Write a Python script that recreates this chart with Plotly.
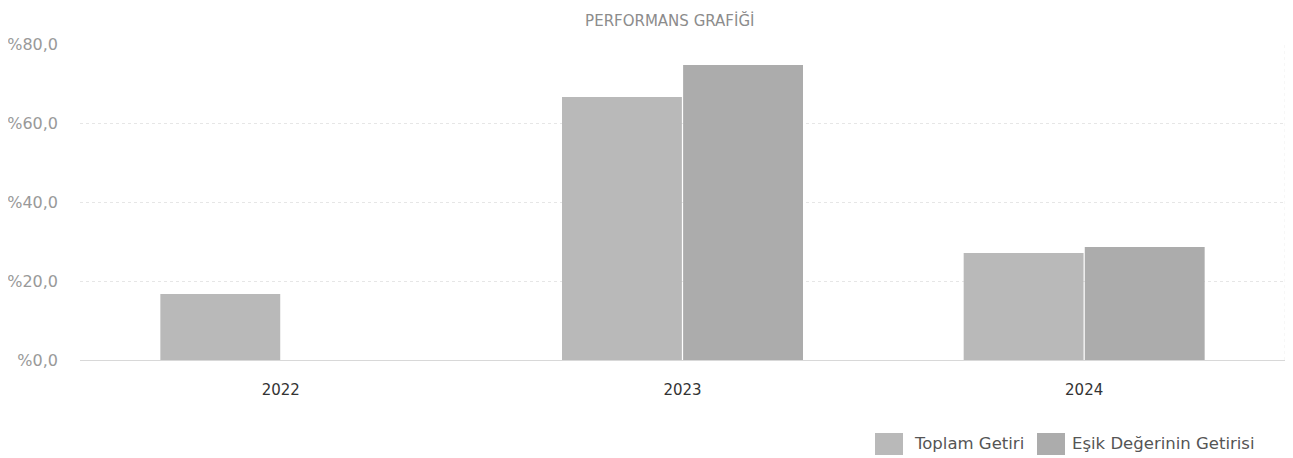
import plotly.graph_objects as go

categories = ["2022", "2023", "2024"]
toplam_getiri = [16.7, 66.6, 27.1]
esik_getiri = [None, 74.7, 28.6]
tick_vals = [0, 20, 40, 60, 80]
tick_text = ["%0,0", "%20,0", "%40,0", "%60,0", "%80,0"]
series_names = ["Toplam Getiri", "Eşik Değerinin Getirisi"]
series_colors = ["#b9b9b9", "#acacac"]

fig = go.Figure()
fig.add_trace(go.Bar(x=categories, y=toplam_getiri, name=series_names[0], showlegend=False,
                     marker=dict(color=series_colors[0], line=dict(width=0))))
fig.add_trace(go.Bar(x=categories, y=esik_getiri, name=series_names[1], showlegend=False,
                     marker=dict(color=series_colors[1], line=dict(width=0))))

W, H = 1285, 450
L, R, T, B = 72, 8, 36, 98
pw, ph = W - L - R, H - T - B


def px_x(fx):
    return (fx - L) / pw


def px_y(fy):
    return (H - B - fy) / ph


# legend drawn as boxes + text (bottom right)
legend_items = [(867, 904), (1029, 1062)]
for (bx, tx), name, col in zip(legend_items, series_names, series_colors):
    fig.add_shape(type="rect", xref="paper", yref="paper",
                  x0=px_x(bx), x1=px_x(bx + 28), y0=px_y(447), y1=px_y(425),
                  fillcolor=col, line=dict(width=0))
    fig.add_annotation(text=name, xref="paper", yref="paper", x=px_x(tx), y=px_y(435),
                       xanchor="left", yanchor="middle", showarrow=False,
                       font=dict(family="DejaVu Sans", size=16.5, color="#555"))

fig.update_layout(
    width=W, height=H,
    margin=dict(l=L, r=R, t=T, b=B, autoexpand=False),
    paper_bgcolor="white", plot_bgcolor="white",
    barmode="group", bargap=0.397, bargroupgap=0.01,
    font=dict(family="DejaVu Sans", size=13, color="#555"),
    title=dict(text="PERFORMANS GRAFİĞİ", x=0.515, xanchor="center", y=0.972, yanchor="middle",
               font=dict(family="DejaVu Sans", size=15, color="#8c8c8c")),
    showlegend=False,
)
fig.update_xaxes(showgrid=False, showline=False, ticks="", tickfont=dict(color="#333", size=15),
                 ticklabelstandoff=19, automargin=False)
fig.update_yaxes(range=[0, 80], tickvals=tick_vals, ticktext=tick_text,
                 showgrid=True, gridcolor="#e6e6e6", griddash="dot", gridwidth=1,
                 zeroline=True, zerolinecolor="#d8d8d8", zerolinewidth=1,
                 tickfont=dict(color="#999", size=16), ticklabelstandoff=21, automargin=False)
fig.add_shape(type="line", xref="paper", yref="paper", x0=1, x1=1, y0=0, y1=1,
              line=dict(color="#eeeeee", width=1, dash="dot"))

fig.write_html("out.html")
